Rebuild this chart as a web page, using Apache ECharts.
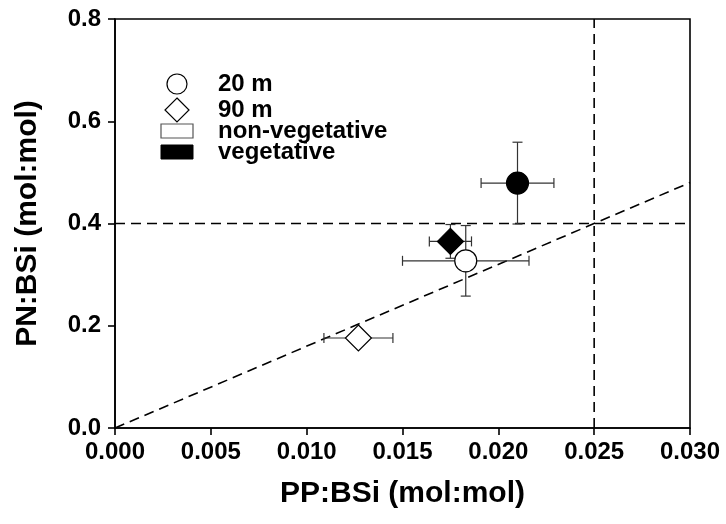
<!DOCTYPE html>
<html>
<head>
<meta charset="utf-8">
<script src="https://cdn.jsdelivr.net/npm/echarts@6/dist/echarts.min.js"></script>
<style>
  html, body { margin: 0; padding: 0; background: #fff; }
  #chart { width: 726px; height: 524px; }
</style>
</head>
<body>
<div id="chart"></div>
<script>
// Particulate ratios by station depth and vegetation status
const groups   = ['20 m vegetative', '20 m non-vegetative', '90 m vegetative', '90 m non-vegetative'];
const ppBsi    = [0.0210, 0.0183, 0.0175, 0.0127];   // PP:BSi mean
const ppBsiErr = [0.0019, 0.0033, 0.0011, 0.0018];   // PP:BSi error
const pnBsi    = [0.479, 0.327, 0.365, 0.176];       // PN:BSi mean
const pnBsiErr = [0.080, 0.069, 0.033, 0.004];       // PN:BSi error
const shapes   = ['circle', 'circle', 'diamond', 'diamond'];
const filled   = [true, false, true, false];

// Reference lines
const redfieldLine = [[0, 0], [0.030, 0.480]];        // N:P = 16
const pnRefLine = [[0, 0.4], [0.030, 0.4]];
const ppRefLine = [[0.025, 0], [0.025, 0.8]];

const FONT = 'Liberation Sans, Arial, sans-serif';
const chart = echarts.init(document.getElementById('chart'), null, { renderer: 'canvas' });

const errData = groups.map((g, i) => [ppBsi[i], pnBsi[i], ppBsiErr[i], pnBsiErr[i]]);

function errorBars(params, api) {
  const x = api.value(0), y = api.value(1), ex = api.value(2), ey = api.value(3);
  const c = api.coord([x, y]);
  const l = api.coord([x - ex, y]);
  const r = api.coord([x + ex, y]);
  const t = api.coord([x, y + ey]);
  const b = api.coord([x, y - ey]);
  const cap = 5;
  const style = { stroke: '#333', lineWidth: 1.2 };
  const seg = (x1, y1, x2, y2) => ({ type: 'line', shape: { x1, y1, x2, y2 }, style });
  return {
    type: 'group',
    children: [
      seg(l[0], c[1], r[0], c[1]),
      seg(l[0], c[1] - cap, l[0], c[1] + cap),
      seg(r[0], c[1] - cap, r[0], c[1] + cap),
      seg(c[0], t[1], c[0], b[1]),
      seg(c[0] - cap, t[1], c[0] + cap, t[1]),
      seg(c[0] - cap, b[1], c[0] + cap, b[1])
    ]
  };
}

const markerSeries = groups.map((g, i) => ({
  name: g,
  type: 'scatter',
  z: 5,
  symbol: shapes[i],
  symbolSize: shapes[i] === 'circle' ? 22 : 26,
  data: [[ppBsi[i], pnBsi[i]]],
  itemStyle: {
    color: filled[i] ? '#000' : '#fff',
    borderColor: '#000',
    borderWidth: 1.2,
    opacity: 1
  },
  emphasis: { disabled: true }
}));

const dashed = { color: '#000', width: 1.6, type: [10, 6] };
const refSeries = [redfieldLine, pnRefLine, ppRefLine].map((d, i) => ({
  name: 'ref' + i, type: 'line', data: d, symbol: 'none', z: 1, silent: true,
  lineStyle: dashed
}));

// Legend drawn as graphic items
const legendX = 177, legendTextX = 218;
const legendRows = [
  { y: 84, label: '20 m', icon: { type: 'circle', shape: { cx: legendX, cy: 84, r: 10 }, style: { fill: '#fff', stroke: '#000', lineWidth: 1.2 } } },
  { y: 110, label: '90 m', icon: { type: 'polygon', shape: { points: [[legendX, 98], [legendX + 12, 110], [legendX, 122], [legendX - 12, 110]] }, style: { fill: '#fff', stroke: '#000', lineWidth: 1.2 } } },
  { y: 131, label: 'non-vegetative', icon: { type: 'rect', shape: { x: legendX - 16, y: 124, width: 32, height: 14 }, style: { fill: '#fff', stroke: '#555', lineWidth: 1.2 } } },
  { y: 152, label: 'vegetative', icon: { type: 'rect', shape: { x: legendX - 16, y: 145, width: 32, height: 14 }, style: { fill: '#000', stroke: '#000', lineWidth: 1 } } }
];
const legendGraphics = [];
legendRows.forEach(r => {
  legendGraphics.push(r.icon);
  legendGraphics.push({
    type: 'text', x: legendTextX, y: r.y,
    style: { text: r.label, font: 'bold 24px ' + FONT, fill: '#000', verticalAlign: 'middle' }
  });
});

chart.setOption({
  animation: false,
  backgroundColor: '#fff',
  grid: { left: 115, right: 36, top: 19, bottom: 96, show: true, borderColor: '#000', borderWidth: 1.6 },
  xAxis: {
    type: 'value', min: 0, max: 0.03, interval: 0.005,
    name: 'PP:BSi (mol:mol)', nameLocation: 'middle', nameGap: 51,
    nameTextStyle: { fontFamily: FONT, fontWeight: 'bold', fontSize: 30, color: '#000' },
    axisLine: { show: true, lineStyle: { color: '#000', width: 1.6 } },
    axisTick: { show: true, inside: false, length: 7, lineStyle: { color: '#000', width: 1.6 } },
    axisLabel: { fontFamily: FONT, fontWeight: 'bold', fontSize: 24, color: '#000', margin: 12,
      formatter: v => v.toFixed(3) },
    splitLine: { show: false }
  },
  yAxis: {
    type: 'value', min: 0, max: 0.8, interval: 0.2,
    name: 'PN:BSi (mol:mol)', nameLocation: 'middle', nameGap: 72, nameRotate: 90,
    nameTextStyle: { fontFamily: FONT, fontWeight: 'bold', fontSize: 30, color: '#000' },
    axisLine: { show: true, lineStyle: { color: '#000', width: 1.6 } },
    axisTick: { show: true, inside: false, length: 7, lineStyle: { color: '#000', width: 1.6 } },
    axisLabel: { fontFamily: FONT, fontWeight: 'bold', fontSize: 24, color: '#000', margin: 14,
      formatter: v => v.toFixed(1) },
    splitLine: { show: false }
  },
  series: [
    ...refSeries,
    {
      name: 'error', type: 'custom', renderItem: errorBars, data: errData, z: 3,
      encode: { x: 0, y: 1 }
    },
    ...markerSeries
  ],
  graphic: legendGraphics
});
</script>
</body>
</html>
